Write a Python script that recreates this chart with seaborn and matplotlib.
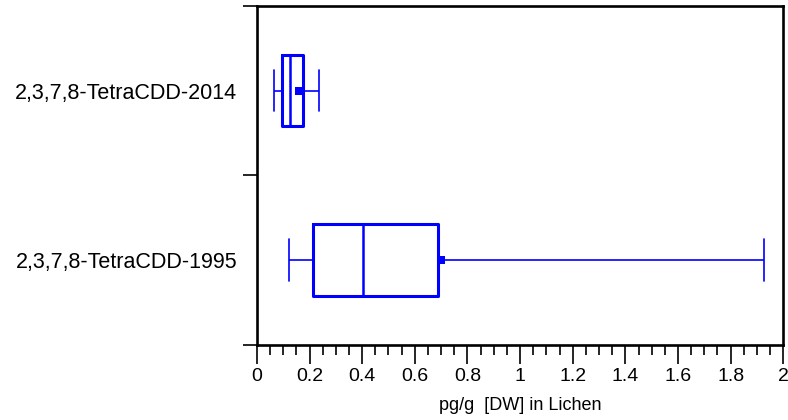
import numpy as np
import seaborn as sns
import matplotlib.pyplot as plt
import pandas as pd
from matplotlib.ticker import MultipleLocator, FixedLocator, FuncFormatter

# five-number summaries: min, q1, median, q3, max
groups = ['2,3,7,8-TetraCDD-2014', '2,3,7,8-TetraCDD-1995']
summary_2014 = [0.065, 0.094, 0.125, 0.176, 0.235]
summary_1995 = [0.121, 0.213, 0.405, 0.688, 1.928]
means = [0.160, 0.700]

df = pd.DataFrame({
    'group': [groups[0]] * 5 + [groups[1]] * 5,
    'value': summary_2014 + summary_1995,
})

sns.set_style('white')
plt.rcParams['font.family'] = ['Liberation Sans', 'DejaVu Sans']
plt.rcParams['text.color'] = 'black'
plt.rcParams['axes.labelcolor'] = 'black'
plt.rcParams['xtick.color'] = 'black'
plt.rcParams['ytick.color'] = 'black'

fig = plt.figure(figsize=(7.88, 4.20), dpi=100)
ax = fig.add_axes([0.326, 0.179, 0.668, 0.807])

blue = '#0000ff'
sns.boxplot(data=df, x='value', y='group', order=groups, orient='h',
            whis=(0, 100), fill=False, color=blue, width=0.42, linewidth=2.2,
            whiskerprops={'linewidth': 1.2}, capprops={'linewidth': 1.2},
            medianprops={'linewidth': 1.8}, capwidths=0.245, ax=ax)

mean_df = pd.DataFrame({'group': groups, 'mean': means})
sns.scatterplot(data=mean_df, x='mean', y='group', marker='s', s=40,
                color=blue, edgecolor=blue, linewidth=0, zorder=5, ax=ax)

ax.set_xlim(0, 2)
ax.set_ylim(1.5, -0.5)
ax.xaxis.set_major_locator(MultipleLocator(0.2))
ax.xaxis.set_minor_locator(MultipleLocator(0.05))
ax.xaxis.set_major_formatter(FuncFormatter(lambda v, p: f'{v:g}'))
ax.yaxis.set_major_locator(FixedLocator([-0.5, 0.5, 1.5]))
ax.yaxis.set_minor_locator(FixedLocator([0, 1]))
ax.set_yticklabels([], minor=False)
ax.set_yticklabels(groups, minor=True)
ax.tick_params(axis='x', which='major', direction='out', length=13.5, width=1.2,
               labelsize=14, pad=3, bottom=True)
ax.tick_params(axis='x', which='minor', direction='out', length=7, width=1.2, bottom=True)
ax.tick_params(axis='y', which='major', direction='out', length=10, width=1.2, left=True)
ax.tick_params(axis='y', which='minor', length=0, labelsize=15.5, pad=14)

for sp in ax.spines.values():
    sp.set_visible(True)
    sp.set_color('black')
    sp.set_linewidth(1.9)

ax.set_xlabel('pg/g  [DW] in Lichen', fontsize=13, labelpad=9)
ax.set_ylabel('')

fig.savefig('out.png', dpi=100)
